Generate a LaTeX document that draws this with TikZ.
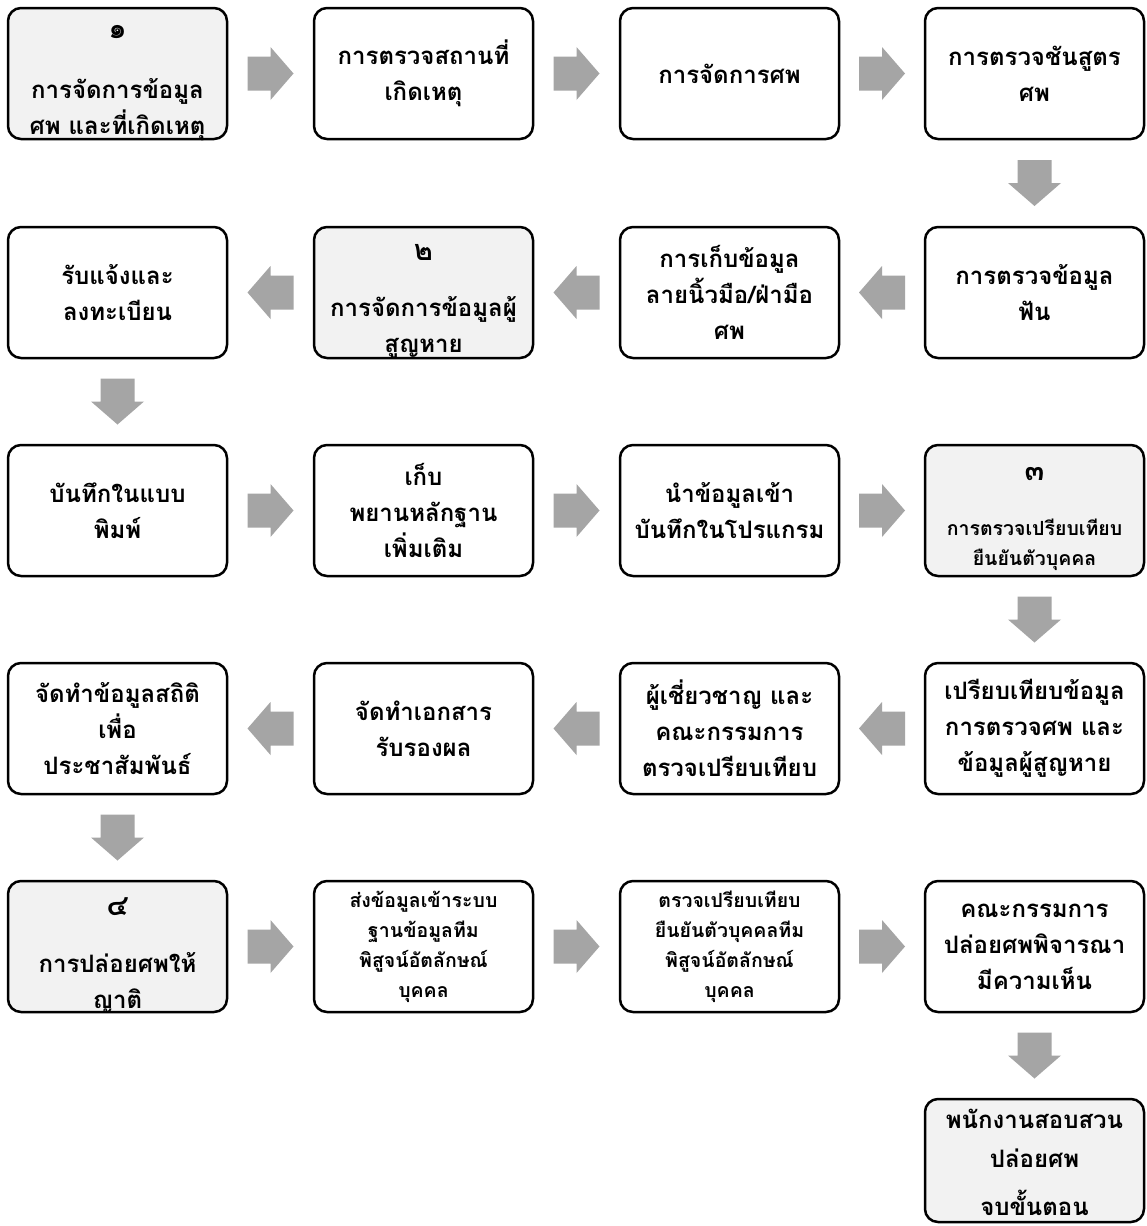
\documentclass[tikz,border=0pt]{standalone}
\usepackage{fontspec}
\newfontfamily\thai[Script=Thai]{Loma}
\usetikzlibrary{calc}
\definecolor{arrowgray}{HTML}{A5A5A5}
\definecolor{boxgray}{HTML}{F2F2F2}
\begin{document}
\begin{tikzpicture}[x=1pt,y=-1pt,
  box/.style={draw=black, line width=2.5pt, rounded corners=13pt, minimum width=219pt, minimum height=131pt, inner sep=0pt, fill=white},
  gbox/.style={box, fill=boxgray},
  txt/.style={font=\thai\bfseries\fontsize{24}{36}\selectfont, align=center, inner sep=0pt},
  stxt/.style={font=\thai\bfseries\fontsize{19.5}{30}\selectfont, align=center, inner sep=0pt},
  dig/.style={font=\thai\bfseries\fontsize{29}{29}\selectfont, inner sep=0pt},
  barrow/.pic={\fill[arrowgray] (-23,-17) -- (0,-17) -- (0,-26.5) -- (23,0) -- (0,26.5) -- (0,17) -- (-23,17) -- cycle;}
]
\fill[white] (0,0) rectangle (1146,1226);
\useasboundingbox (0,0) rectangle (1146,1226);

% boxes
\node[gbox] (b11) at (117.5,73.5) {};
\node[box]  (b12) at (423.5,73.5) {};
\node[box]  (b13) at (729.5,73.5) {};
\node[box]  (b14) at (1034.5,73.5) {};
\node[box]  (b21) at (117.5,292.5) {};
\node[gbox] (b22) at (423.5,292.5) {};
\node[box]  (b23) at (729.5,292.5) {};
\node[box]  (b24) at (1034.5,292.5) {};
\node[box]  (b31) at (117.5,510.5) {};
\node[box]  (b32) at (423.5,510.5) {};
\node[box]  (b33) at (729.5,510.5) {};
\node[gbox] (b34) at (1034.5,510.5) {};
\node[box]  (b41) at (117.5,728.5) {};
\node[box]  (b42) at (423.5,728.5) {};
\node[box]  (b43) at (729.5,728.5) {};
\node[box]  (b44) at (1034.5,728.5) {};
\node[gbox] (b51) at (117.5,946.5) {};
\node[box]  (b52) at (423.5,946.5) {};
\node[box]  (b53) at (729.5,946.5) {};
\node[box]  (b54) at (1034.5,946.5) {};
\node[gbox, minimum height=123pt] (b64) at (1034.5,1160.5) {};

% step numbers
\node[dig] (n11) at ([yshift=-25pt]b11.north) {๑};
\node[dig] (n22) at ([yshift=-27pt]b22.north) {๒};
\node[dig] (n34) at ([yshift=-30pt]b34.north) {๓};
\node[dig] (n51) at ([yshift=-27pt]b51.north) {๔};

% texts
\node[txt] (t11) at ([yshift=-36pt]b11.center) {การจัดการข้อมูล\\ศพ และที่เกิดเหตุ};
\node[txt] (t12) at (b12) {การตรวจสถานที่\\เกิดเหตุ};
\node[txt] (t13) at (b13) {การจัดการศพ};
\node[txt] (t14) at (b14) {การตรวจชันสูตร\\ศพ};
\node[txt] (t24) at (b24) {การตรวจข้อมูล\\ฟัน};
\node[txt] (t23) at (b23) {การเก็บข้อมูล\\ลายนิ้วมือ/ฝ่ามือ\\ศพ};
\node[txt] (t22) at ([yshift=-35pt]b22.center) {การจัดการข้อมูลผู้\\สูญหาย};
\node[txt] (t21) at (b21) {รับแจ้งและ\\ลงทะเบียน};
\node[txt] (t31) at (b31) {บันทึกในแบบ\\พิมพ์};
\node[txt] (t32) at (b32) {เก็บ\\พยานหลักฐาน\\เพิ่มเติม};
\node[txt] (t33) at (b33) {นำข้อมูลเข้า\\บันทึกในโปรแกรม};
\node[stxt] (t34) at ([yshift=-34pt]b34.center) {การตรวจเปรียบเทียบ\\ยืนยันตัวบุคคล};
\node[txt] (t44) at (b44) {เปรียบเทียบข้อมูล\\การตรวจศพ และ\\ข้อมูลผู้สูญหาย};
\node[txt] (t43) at (b43) {ผู้เชี่ยวชาญ และ\\คณะกรรมการ\\ตรวจเปรียบเทียบ};
\node[txt] (t42) at (b42) {จัดทำเอกสาร\\รับรองผล};
\node[txt] (t41) at (b41) {จัดทำข้อมูลสถิติ\\เพื่อ\\ประชาสัมพันธ์};
\node[txt] (t51) at ([yshift=-36pt]b51.center) {การปล่อยศพให้\\ญาติ};
\node[stxt] (t52) at (b52) {ส่งข้อมูลเข้าระบบ\\ฐานข้อมูลทีม\\พิสูจน์อัตลักษณ์\\บุคคล};
\node[stxt] (t53) at (b53) {ตรวจเปรียบเทียบ\\ยืนยันตัวบุคคลทีม\\พิสูจน์อัตลักษณ์\\บุคคล};
\node[txt] (t54) at (b54) {คณะกรรมการ\\ปล่อยศพพิจารณา\\มีความเห็น};
\node[txt] (t64) at ([yshift=-2pt]b64.center) {พนักงานสอบสวน\\[3pt]ปล่อยศพ\\[12pt]จบขั้นตอน};

% arrows
\pic at ($(b11.east)!0.5!(b12.west)$) {barrow};
\pic at ($(b12.east)!0.5!(b13.west)$) {barrow};
\pic at ($(b13.east)!0.5!(b14.west)$) {barrow};
\pic[rotate=-90] at ($(b14.south)!0.5!(b24.north)$) {barrow};
\pic[rotate=180] at ($(b24.west)!0.5!(b23.east)$) {barrow};
\pic[rotate=180] at ($(b23.west)!0.5!(b22.east)$) {barrow};
\pic[rotate=180] at ($(b22.west)!0.5!(b21.east)$) {barrow};
\pic[rotate=-90] at ($(b21.south)!0.5!(b31.north)$) {barrow};
\pic at ($(b31.east)!0.5!(b32.west)$) {barrow};
\pic at ($(b32.east)!0.5!(b33.west)$) {barrow};
\pic at ($(b33.east)!0.5!(b34.west)$) {barrow};
\pic[rotate=-90] at ($(b34.south)!0.5!(b44.north)$) {barrow};
\pic[rotate=180] at ($(b44.west)!0.5!(b43.east)$) {barrow};
\pic[rotate=180] at ($(b43.west)!0.5!(b42.east)$) {barrow};
\pic[rotate=180] at ($(b42.west)!0.5!(b41.east)$) {barrow};
\pic[rotate=-90] at ($(b41.south)!0.5!(b51.north)$) {barrow};
\pic at ($(b51.east)!0.5!(b52.west)$) {barrow};
\pic at ($(b52.east)!0.5!(b53.west)$) {barrow};
\pic at ($(b53.east)!0.5!(b54.west)$) {barrow};
\pic[rotate=-90] at ($(b54.south)!0.5!(b64.north)$) {barrow};
\end{tikzpicture}
\end{document}
